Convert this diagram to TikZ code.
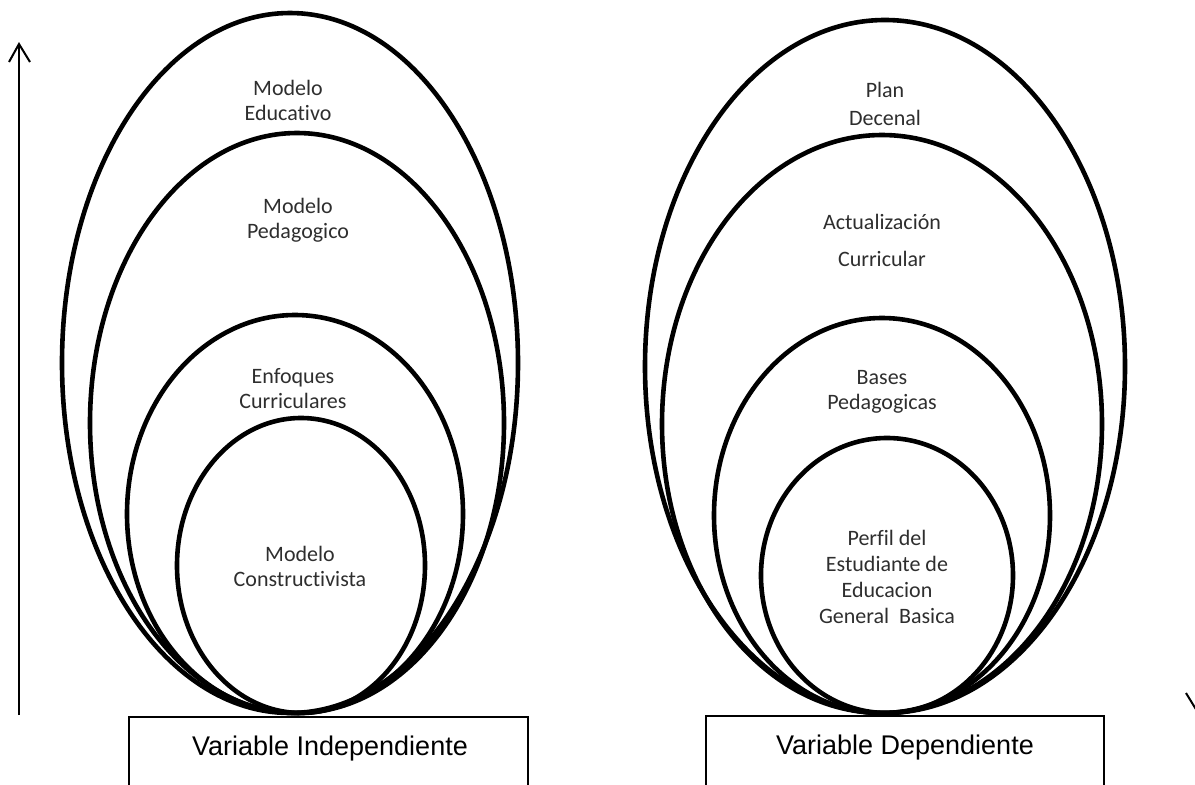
\documentclass[tikz,border=0pt]{standalone}
\usepackage{fontspec}
\setmainfont{Carlito}[Ligatures=NoCommon]
\newfontfamily\boxfont{Liberation Sans}
\begin{document}
\begin{tikzpicture}[x=1pt,y=-1pt,
  ring/.style={line width=4.6pt},
  thin/.style={line width=2pt},
  lbl/.style={font=\fontsize{22}{25}\selectfont, align=center, text=black!82, inner sep=0pt},
  boxlbl/.style={font=\boxfont\fontsize{27}{31}\selectfont, inner sep=0pt, anchor=base}]
\useasboundingbox (0,0) rectangle (1195,785);
\clip (0,0) rectangle (1195,785);
% left group
\draw[ring] (290,363) ellipse [x radius=228pt, y radius=350pt];
\draw[ring] (297,423) ellipse [x radius=207pt, y radius=290pt];
\draw[ring] (295,514) ellipse [x radius=168pt, y radius=199pt];
\draw[ring] (301,565.5) ellipse [x radius=124pt, y radius=147.5pt];
\node[lbl] (t1) at (288,100) {Modelo\\Educativo};
\node[lbl] (t2) at (298,220) {Modelo\\Pedagogico};
\node[lbl] (t3) at (293,389) {Enfoques\\Curriculares};
\node[lbl] (t4) at (300,566) {Modelo\\Constructivista};
% right group
\draw[ring] (885,366.5) ellipse [x radius=240pt, y radius=346.5pt];
\draw[ring] (882,424) ellipse [x radius=220pt, y radius=289pt];
\draw[ring] (882,515.5) ellipse [x radius=168pt, y radius=197.5pt];
\draw[ring] (887,575.5) ellipse [x radius=126pt, y radius=137.5pt];
\node[lbl, font=\fontsize{22}{28}\selectfont] (r1) at (885,104) {Plan\\Decenal};
\node[lbl, font=\fontsize{22}{37}\selectfont] (r2) at (882,240) {Actualización\\Curricular};
\node[lbl] (r3) at (882,392) {Bases\\Pedagogicas};
\node[lbl, font=\fontsize{22}{26}\selectfont] (r4) at (887,577) {Perfil del\\Estudiante de\\Educacion\\General\ \ Basica};
% boxes (open at bottom)
\coordinate (lbBL) at (129,790);
\coordinate (lbTR) at (528,717);
\draw[thin] (lbBL) |- (lbTR) -- (528,790);
\node[boxlbl] (lb) at (330,755) {Variable Independiente};
\coordinate (rbBL) at (706,790);
\coordinate (rbTR) at (1104,716);
\draw[thin] (rbBL) |- (rbTR) -- (1104,790);
\node[boxlbl] (rb) at (905,754) {Variable Dependiente};
% vertical arrow
\coordinate (abot) at (19,715);
\coordinate (atip) at (19,44);
\draw[thin] (abot) -- (atip);
\draw[thin, line join=miter] (9,62) -- (atip) -- (30,62);
% partial mark at right edge
\coordinate (m1) at (1186,693);
\coordinate (m2) at (1197,711);
\draw[thin] (m1) -- (m2);
\end{tikzpicture}
\end{document}
